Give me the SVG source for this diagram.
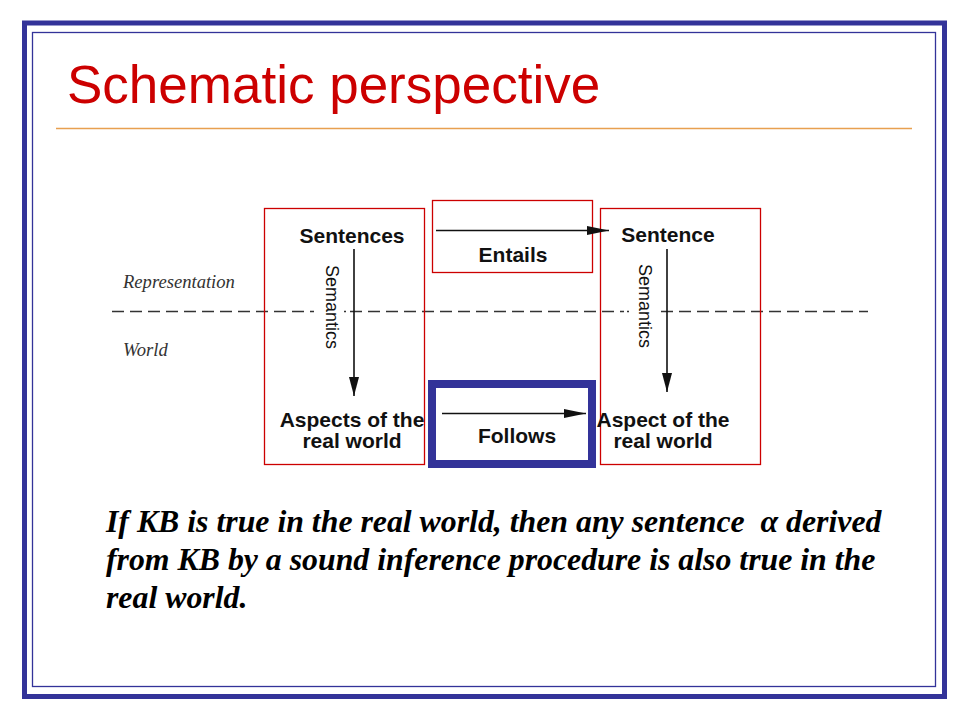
<svg xmlns="http://www.w3.org/2000/svg" width="960" height="720" viewBox="0 0 960 720">
<style>
.frame{fill:none;stroke:#333399}
.box{fill:none;stroke:#CC0000;stroke-width:1.3}
.lbl{font-family:"Liberation Sans",Arial,sans-serif;font-weight:bold;font-size:21px;fill:#111;text-anchor:middle}
.sem{font-family:"Liberation Sans",Arial,sans-serif;font-size:18px;fill:#111;text-anchor:middle}
.side{font-family:"Liberation Serif","Times New Roman",serif;font-style:italic;font-size:18.6px;fill:#333}
.body{font-family:"Liberation Serif","Times New Roman",serif;font-style:italic;font-weight:bold;font-size:31.8px;fill:#000}
.arr{stroke:#111;stroke-width:1.6;fill:none}
.dash{stroke:#333;stroke-width:1.4;stroke-dasharray:12 6;fill:none}
</style>
<defs>
<marker id="ah" markerUnits="userSpaceOnUse" markerWidth="22" markerHeight="10" refX="22" refY="4.5" orient="auto"><path d="M0,0 L22,4.5 L0,9 z" fill="#111"/></marker>
<marker id="av" markerUnits="userSpaceOnUse" markerWidth="20" markerHeight="11" refX="19" refY="5" orient="auto"><path d="M0,0 L19,5 L0,10 z" fill="#111"/></marker>
</defs>
<rect width="960" height="720" fill="#fff"/>
<rect class="frame" x="24.5" y="23" width="920" height="673.5" stroke-width="5"/>
<rect class="frame" x="32.5" y="32.5" width="903" height="654" stroke-width="1.3"/>
<text x="67" y="103" font-family="'Liberation Sans',Arial,sans-serif" font-size="53" fill="#CC0000">Schematic perspective</text>
<line x1="56" y1="128.5" x2="912" y2="128.5" stroke="#E8A050" stroke-width="1.3"/>

<g id="divider">
<line class="dash" x1="112" y1="311.5" x2="314" y2="311.5"/>
<line x1="344" y1="311.5" x2="346" y2="311.5" stroke="#333" stroke-width="1.4"/>
<line class="dash" x1="350" y1="311.5" x2="624" y2="311.5"/>
<line x1="627" y1="311.5" x2="629" y2="311.5" stroke="#333" stroke-width="1.4"/>
<line class="dash" x1="661" y1="311.5" x2="868" y2="311.5"/>
<text class="side" x="123" y="288">Representation</text>
<text class="side" x="123" y="356">World</text>
</g>

<g id="left-node">
<rect class="box" x="264.5" y="208.5" width="160" height="256"/>
<text class="lbl" x="352" y="243">Sentences</text>
<text class="sem" transform="translate(326,307) rotate(90)">Semantics</text>
<text class="lbl" x="352" y="427">Aspects of the</text>
<text class="lbl" x="352" y="448">real world</text>
</g>

<g id="right-node">
<rect class="box" x="600.5" y="208.5" width="160" height="256"/>
<text class="lbl" x="668" y="242">Sentence</text>
<text class="sem" transform="translate(638.5,306) rotate(90)">Semantics</text>
<text class="lbl" x="663" y="427">Aspect of the</text>
<text class="lbl" x="663" y="448">real world</text>
</g>

<g id="entails-node">
<rect class="box" x="432.5" y="200.5" width="160" height="72"/>
<text class="lbl" x="513" y="262">Entails</text>
</g>

<g id="follows-node">
<rect x="432" y="384" width="160" height="80" fill="none" stroke="#333399" stroke-width="8"/>
<text class="lbl" x="517" y="443">Follows</text>
</g>

<g id="connectors">
<line class="arr" x1="436" y1="230.5" x2="609" y2="230.5" marker-end="url(#ah)"/>
<line class="arr" x1="442" y1="413.5" x2="586" y2="413.5" marker-end="url(#ah)"/>
<line class="arr" x1="354" y1="249" x2="354" y2="396" marker-end="url(#av)"/>
<line class="arr" x1="667" y1="249" x2="667" y2="392" marker-end="url(#av)"/>
</g>

<g id="statement">
<text class="body" x="106" y="532">If KB is true in the real world, then any sentence&#160; α derived</text>
<text class="body" x="106" y="570">from KB by a sound inference procedure is also true in the</text>
<text class="body" x="106" y="608">real world.</text>
</g>
</svg>
